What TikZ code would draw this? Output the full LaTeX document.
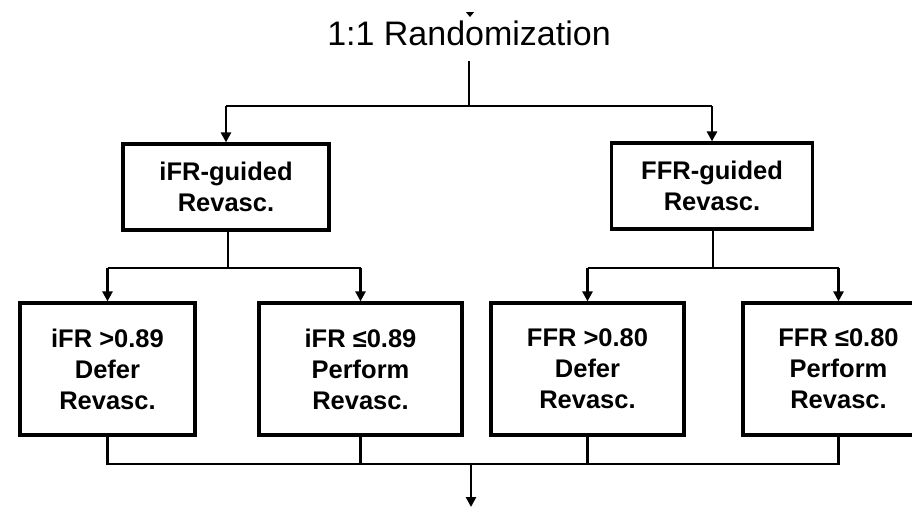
\documentclass[tikz,border=0pt]{standalone}
\usepackage{fontspec}
\setmainfont{Liberation Sans}
\usetikzlibrary{arrows.meta}
\tikzset{
    flowbox/.style={draw, line width=3.2pt, align=center, inner sep=2pt,
                    font=\bfseries\fontsize{25.5}{31}\selectfont, minimum height=86pt},
    leafbox/.style={flowbox, minimum height=132pt},
    link/.style={line width=2.6pt},
    flowarrow/.style={link, -{Triangle[width=10pt,length=10pt]}},
    entryarrow/.style={line width=1pt, -{Triangle[width=8pt,length=5pt]}}
}
\begin{document}
\begin{tikzpicture}[x=1pt, y=-1pt]
        \useasboundingbox (0,0) rectangle (912,507);
        \node[font=\fontsize{34}{40}\selectfont, inner sep=0pt, anchor=base] (rand) at (469, 45) {1:1 Randomization};
        \node[flowbox, minimum width=206pt] (ifrguided)  at (226.0,187) {iFR-guided\\Revasc.};
        \node[flowbox, minimum width=201pt] (ffrguided)  at (712.0,186) {FFR-guided\\Revasc.};
        \node[leafbox, minimum width=175pt] (ifrdefer)   at (107.5,369) {iFR >0.89\\Defer\\Revasc.};
        \node[leafbox, minimum width=203pt] (ifrperform) at (360.5,369) {iFR ≤0.89\\Perform\\Revasc.};
        \node[leafbox, minimum width=193pt] (ffrdefer)   at (587.5,369) {FFR >0.80\\Defer\\Revasc.};
        \node[leafbox, minimum width=191pt] (ffrperform) at (838.5,369) {FFR ≤0.80\\Perform\\Revasc.};
        \coordinate (entry)    at (470, 12);
        \coordinate (split)    at (469,106);
        \coordinate (ifrsplit) at (228,268);
        \coordinate (ffrsplit) at (713,268);
        \coordinate (merge)    at (471,464);
        \coordinate (exit)     at (471,507);
        % randomization
        \draw[entryarrow] (entry) -- ++(0,5);
        \draw[link]      ([yshift=-15pt]rand.south) -- (split);
        \draw[link]      (ifrguided.north |- split) -- (ffrguided.north |- split);
        \draw[flowarrow] (ifrguided.north |- split) -- (ifrguided.north);
        \draw[flowarrow] (ffrguided.north |- split) -- (ffrguided.north);
        % iFR arm
        \draw[link]      (ifrsplit |- ifrguided.south) -- (ifrsplit);
        \draw[link]      (ifrdefer.north |- ifrsplit) -- (ifrperform.north |- ifrsplit);
        \draw[flowarrow] (ifrdefer.north |- ifrsplit) -- (ifrdefer.north);
        \draw[flowarrow] (ifrperform.north |- ifrsplit) -- (ifrperform.north);
        % FFR arm
        \draw[link]      (ffrsplit |- ffrguided.south) -- (ffrsplit);
        \draw[link]      (ffrdefer.north |- ffrsplit) -- (ffrperform.north |- ffrsplit);
        \draw[flowarrow] (ffrdefer.north |- ffrsplit) -- (ffrdefer.north);
        \draw[flowarrow] (ffrperform.north |- ffrsplit) -- (ffrperform.north);
        % follow-up
        \draw[link]      (ifrdefer.south) -- (ifrdefer.south |- merge) -- (ffrperform.south |- merge) -- (ffrperform.south);
        \draw[link]      (ifrperform.south) -- (ifrperform.south |- merge);
        \draw[link]      (ffrdefer.south) -- (ffrdefer.south |- merge);
        \draw[flowarrow] (merge) -- (exit);
\end{tikzpicture}
\end{document}
